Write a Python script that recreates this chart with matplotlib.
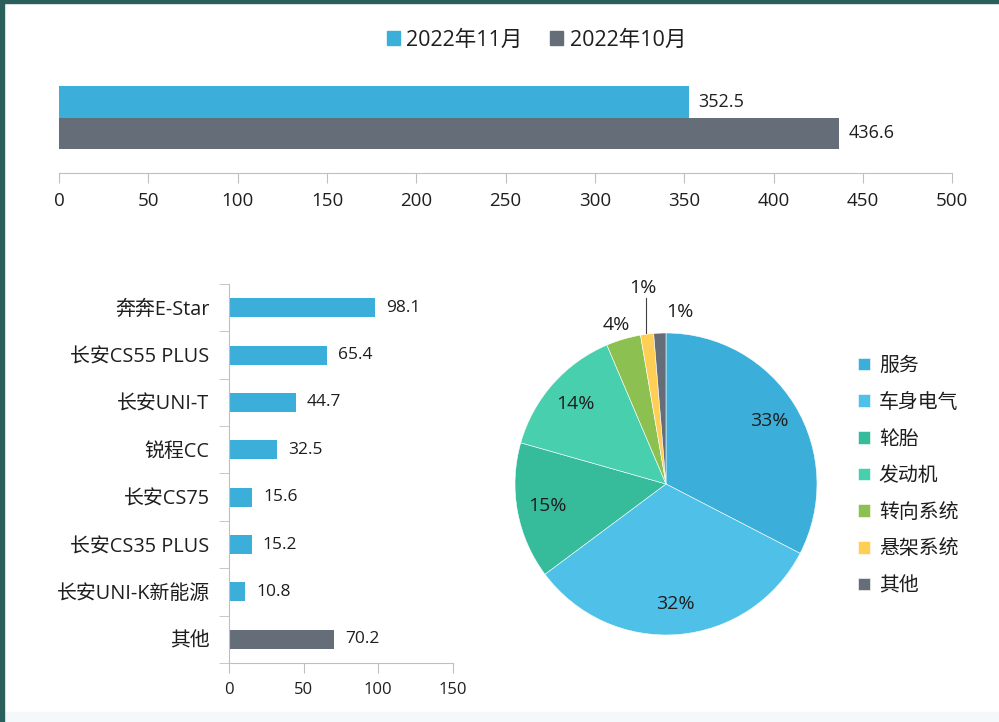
import matplotlib
matplotlib.use("Agg")
import matplotlib.pyplot as plt
from matplotlib.patches import Rectangle, Patch

plt.rcParams['font.family'] = ['Open Sans', 'Noto Sans CJK SC', 'DejaVu Sans']

# top chart: monthly totals
months = ['2022年11月', '2022年10月']
month_totals = [352.5, 436.6]
month_colors = ['#3BAFDA', '#656D78']

# bottom left: sales by model
models = ['奔奔E-Star', '长安CS55 PLUS', '长安UNI-T', '锐程CC', '长安CS75',
          '长安CS35 PLUS', '长安UNI-K新能源', '其他']
model_values = [98.1, 65.4, 44.7, 32.5, 15.6, 15.2, 10.8, 70.2]

# pie: complaint share by part
parts = ['服务', '车身电气', '轮胎', '发动机', '转向系统', '悬架系统', '其他']
part_share = [32.6, 32.2, 14.6, 14.2, 3.7, 1.4, 1.3]
part_colors = ['#3BAFDA', '#4FC1E9', '#37BC9B', '#48CFAD', '#8CC152', '#FFCE54', '#656D78']

text_col = '#1E1E1E'
axis_col = '#BFBFBF'

fig = plt.figure(figsize=(9.99, 7.22), dpi=100)

# ---- top chart
ax1 = fig.add_axes([0.0591, 0.7604, 0.894, 0.1537])
bar_h = 0.284
offsets = [bar_h / 2, -bar_h / 2]
for m, v, c, off in zip(months, month_totals, month_colors, offsets):
    bars = ax1.barh(off, v, height=bar_h, color=c, label=m)
    ax1.bar_label(bars, fmt='%.1f', padding=7, fontsize=13, color=text_col)
ax1.set_xlim(0, 500)
ax1.set_ylim(-0.5, 0.5)
ax1.set_xticks(range(0, 501, 50))
ax1.set_yticks([])
for s in ['top', 'right', 'left']:
    ax1.spines[s].set_visible(False)
ax1.spines['bottom'].set_color(axis_col)
ax1.tick_params(axis='x', length=7, color=axis_col, labelsize=13.5,
                labelcolor=text_col, pad=7)

handles = [Patch(color=c) for c in month_colors]
fig.legend(handles, months, loc='center', bbox_to_anchor=(0.537, 1 - 40 / 722),
           ncol=2, frameon=False, fontsize=15.5, handlelength=0.6, handleheight=0.6,
           handletextpad=0.3, columnspacing=1.3, labelcolor=text_col)

# ---- bottom left bars
ax2 = fig.add_axes([0.2292, 0.0817, 0.2242, 0.525])
ypos = list(range(len(models)))
bar_cols = ['#3BAFDA'] * (len(models) - 1) + ['#656D78']
bars = ax2.barh(ypos, model_values, height=0.4, color=bar_cols)
ax2.bar_label(bars, fmt='%.1f', padding=8, fontsize=12.5, color=text_col)
ax2.set_ylim(len(models) - 0.5, -0.5)
ax2.set_xlim(0, 150)
ax2.set_xticks([0, 50, 100, 150])
ax2.set_yticks(ypos)
ax2.set_yticklabels(models)
ax2.set_yticks([i - 0.5 for i in range(len(models) + 1)], minor=True)
ax2.tick_params(axis='y', which='major', length=0, pad=14, labelsize=14.3,
                labelcolor=text_col)
ax2.tick_params(axis='y', which='minor', length=7, color=axis_col)
ax2.tick_params(axis='x', length=7, color=axis_col, labelsize=12,
                labelcolor=text_col, pad=7)
for s in ['top', 'right']:
    ax2.spines[s].set_visible(False)
for s in ['left', 'bottom']:
    ax2.spines[s].set_color(axis_col)

# ---- pie
ax3 = fig.add_axes([0.5155, 0.1205, 0.3023, 0.4183])
wedges, texts, autotexts = ax3.pie(
    part_share, colors=part_colors, startangle=90, counterclock=False,
    autopct='%.0f%%', pctdistance=0.8,
    wedgeprops=dict(edgecolor='white', linewidth=0.4),
    textprops=dict(fontsize=14, color=text_col))
ax3.set_xlim(-1, 1)
ax3.set_ylim(-1, 1)
autotexts[4].set_position((-0.33, 1.05))
autotexts[5].set_position((-0.15, 1.30))
autotexts[6].set_position((0.09, 1.14))
ax3.plot([-0.13, -0.13], [1.0, 1.23], color='#404040', lw=0.8, clip_on=False)

ax3.legend(wedges, parts, loc='upper left', bbox_to_anchor=(858 / 999, 1 - 356 / 722),
           bbox_transform=fig.transFigure, frameon=False, fontsize=14.3,
           handlelength=0.6, handleheight=0.6, labelspacing=0.84, borderaxespad=0,
           borderpad=0, handletextpad=0.45, labelcolor=text_col)

# frame edges like the screenshot
fig.patches.append(Rectangle((0, 0), 4 / 999, 1, transform=fig.transFigure,
                             color='#2B5F5B', zorder=10))
fig.patches.append(Rectangle((0, 1 - 3 / 722), 1, 3 / 722, transform=fig.transFigure,
                             color='#2B5F5B', zorder=10))
fig.patches.append(Rectangle((4 / 999, 0), 1, 10 / 722, transform=fig.transFigure,
                             color='#F4F8FA', zorder=0))

fig.savefig('out.png', dpi=100)
